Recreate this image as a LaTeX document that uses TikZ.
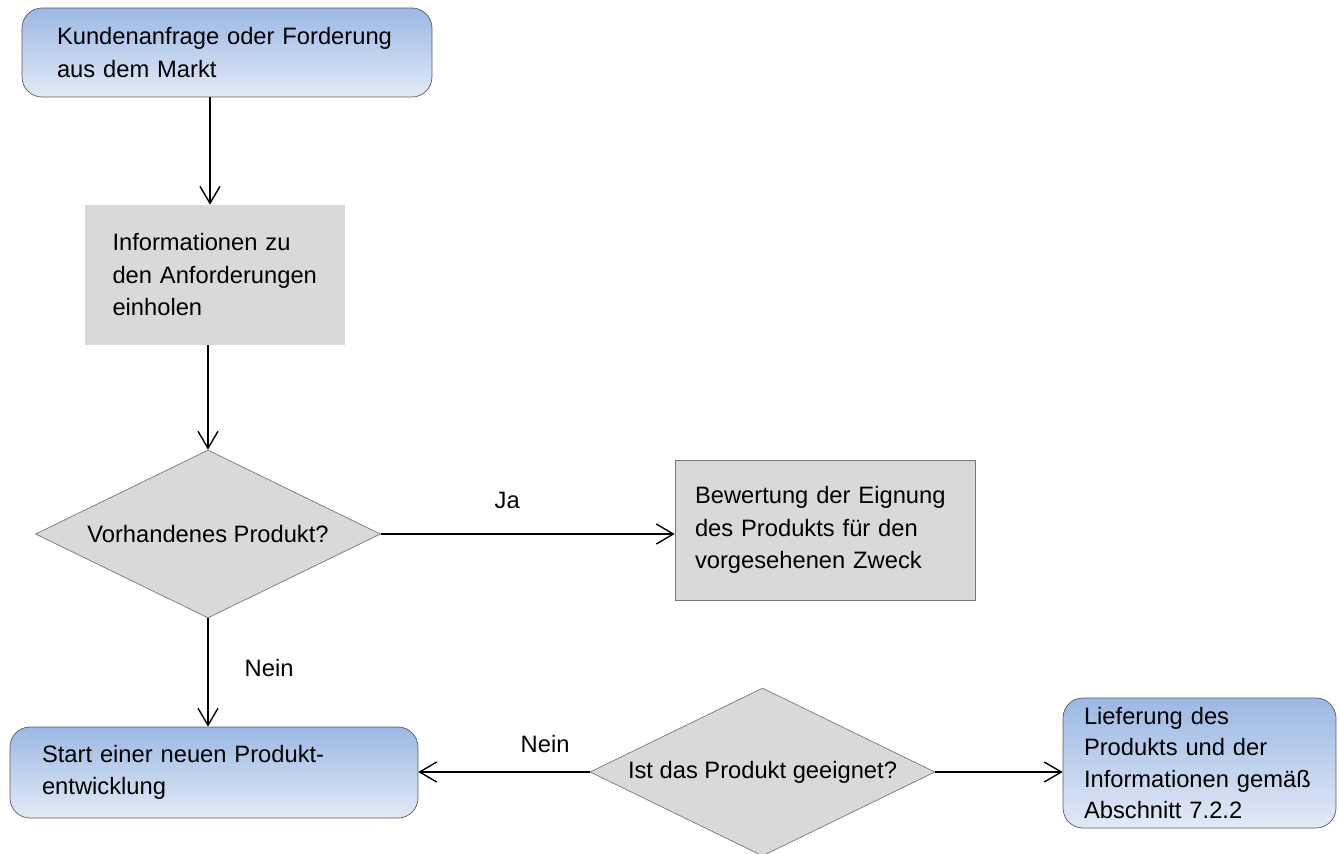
\documentclass[tikz,border=0pt]{standalone}
\usepackage{fontspec}
\setmainfont{Liberation Sans}
\usetikzlibrary{shapes.geometric,arrows.meta}
\definecolor{blueTop}{RGB}{155,184,228}
\definecolor{blueBot}{RGB}{227,234,247}
\definecolor{grayFill}{RGB}{217,217,217}
\definecolor{boxLine}{RGB}{90,90,90}
\definecolor{diaLine}{RGB}{120,120,120}
\begin{document}
\begin{tikzpicture}[x=0.02cm,y=-0.02cm,
    font=\fontsize{13.5}{18.5}\selectfont,
    arr/.style={-{Straight Barb[length=3.4mm,width=4mm]},line width=0.8pt},
    bluebox/.style={draw=boxLine,rounded corners=0.4cm,top color=blueTop,bottom color=blueBot,align=left,inner sep=0pt},
    graybox/.style={fill=grayFill,align=left,inner sep=0pt},
    decision/.style={diamond,aspect=2.05,draw=diaLine,fill=grayFill,minimum width=6.9cm,minimum height=3.36cm,inner sep=0pt},
    lbl/.style={inner sep=0pt}]
  \useasboundingbox (0,0) rectangle (1340,853);
  \node[bluebox,minimum width=8.2cm,minimum height=1.78cm,text width=6.8cm] (markt) at (227,52.5) {Kundenanfrage oder Forderung\\aus dem Markt};
  \node[graybox,minimum width=5.2cm,minimum height=2.8cm,text width=4.1cm] (info) at (215,275) {Informationen zu\\den Anforderungen\\einholen};
  \node[decision] (q1) at (208,534) {Vorhandenes Produkt?};
  \node[graybox,draw=diaLine,minimum width=6cm,minimum height=2.8cm,text width=5.2cm] (eval) at (825,530) {Bewertung der Eignung\\des Produkts für den\\vorgesehenen Zweck};
  \node[bluebox,minimum width=8.16cm,minimum height=1.82cm,text width=6.88cm] (start) at (214,772.5) {Start einer neuen Produkt-\\entwicklung};
  \node[decision] (q2) at (762.5,772) {Ist das Produkt geeignet?};
  \node[bluebox,minimum width=5.46cm,minimum height=2.6cm,text width=4.62cm,font=\fontsize{13.5}{17.8}\selectfont] (deliv) at (1199.5,763) {Lieferung des\\Produkts und der\\Informationen gemäß\\Abschnitt 7.2.2};
  \draw[arr] ([xshift=-0.1cm]info.north |- markt.south) -- ([xshift=-0.1cm]info.north);
  \draw[arr] (info.south -| q1.north) -- (q1.north);
  \draw[arr] (q1.east) -- node[lbl,above=0.5cm,pos=0.43]{Ja} (q1.east -| eval.west);
  \draw[arr] (q1.south) -- node[lbl,right=0.72cm,pos=0.46]{Nein} (start.north -| q1.south);
  \draw[arr] (q2.west) -- node[lbl,above=0.37cm,pos=0.26]{Nein} (q2.west -| start.east);
  \draw[arr] (q2.east) -- (q2.east -| deliv.west);
\end{tikzpicture}
\end{document}
